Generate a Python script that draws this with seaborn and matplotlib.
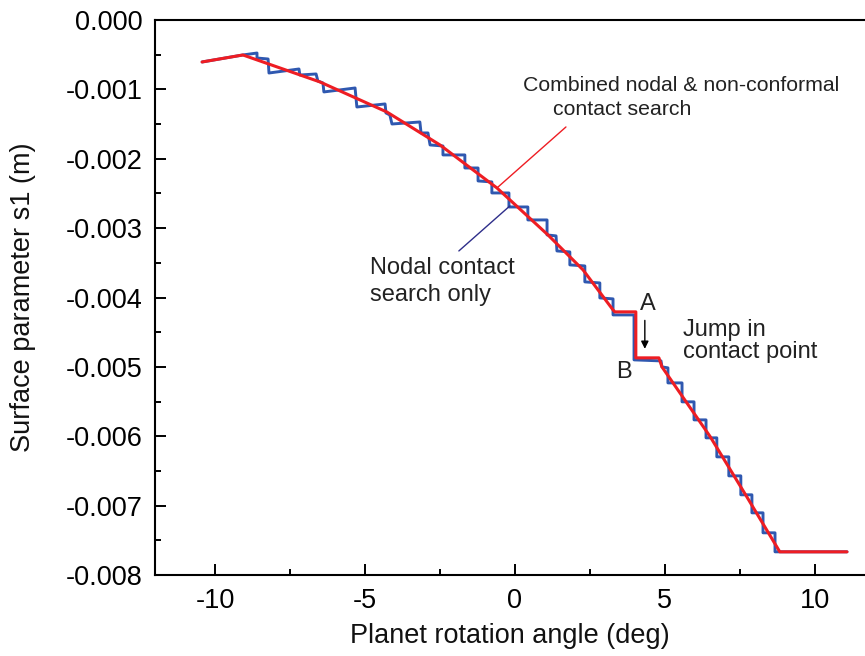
import matplotlib
matplotlib.use("Agg")
import matplotlib.pyplot as plt
from matplotlib.ticker import AutoMinorLocator, FixedLocator, FixedFormatter
import pandas as pd
import seaborn as sns

# Combined nodal & non-conformal contact search: planet angle (deg) vs s1 (m)
combined_angle = [-10.43, -9.07, -6.50, -4.27, -2.50, -0.60, 1.10, 2.27, 3.27,
                  3.33, 4.03, 4.03, 4.80, 4.90, 6.50, 7.73, 8.83, 11.07]
combined_s1 = [-0.000605, -0.000504, -0.000893, -0.001326, -0.001801, -0.002421,
               -0.003098, -0.003602, -0.004179, -0.004207, -0.004207, -0.004870,
               -0.004870, -0.005000, -0.006000, -0.006873, -0.007666, -0.007666]

# Nodal contact search only: stepwise path
nodal_angle = [-10.43, -9.07, -8.60, -8.60, -8.23, -8.20, -7.20, -7.17, -6.63, -6.57,
               -6.40, -6.37, -5.33, -5.27, -4.33, -4.30, -4.17, -4.10, -3.17, -3.13,
               -2.90, -2.83, -2.40, -2.40, -1.67, -1.67, -1.23, -1.23, -0.77, -0.77,
               -0.20, -0.20, 0.43, 0.43, 1.07, 1.07, 1.37, 1.40, 1.83, 1.83,
               2.33, 2.33, 2.83, 2.83, 3.27, 3.27, 3.97, 3.97, 4.87, 4.90,
               5.10, 5.10, 5.57, 5.57, 5.97, 5.97, 6.37, 6.37, 6.73, 6.73,
               7.13, 7.13, 7.53, 7.53, 7.90, 7.90, 8.27, 8.27, 8.67, 8.67, 11.07]
nodal_s1 = [-0.000605, -0.000504, -0.000476, -0.000548, -0.000562, -0.000764,
            -0.000706, -0.000793, -0.000778, -0.000879, -0.000908, -0.001037,
            -0.000980, -0.001254, -0.001210, -0.001340, -0.001369, -0.001499,
            -0.001470, -0.001628, -0.001628, -0.001801, -0.001816, -0.001945,
            -0.001945, -0.002133, -0.002133, -0.002320, -0.002334, -0.002493,
            -0.002493, -0.002695, -0.002695, -0.002882, -0.002882, -0.003098,
            -0.003112, -0.003329, -0.003343, -0.003530, -0.003545, -0.003775,
            -0.003790, -0.004006, -0.004020, -0.004251, -0.004251, -0.004899,
            -0.004914, -0.005000, -0.005014, -0.005231, -0.005231, -0.005504,
            -0.005504, -0.005764, -0.005764, -0.006023, -0.006023, -0.006297,
            -0.006297, -0.006571, -0.006571, -0.006844, -0.006844, -0.007104,
            -0.007104, -0.007392, -0.007392, -0.007666, -0.007666]

x_ticks = [-10, -5, 0, 5, 10]
x_tick_labels = ["-10", "-5", "0", "5", "10"]
y_ticks = [0.000, -0.001, -0.002, -0.003, -0.004, -0.005, -0.006, -0.007, -0.008]
y_tick_labels = ["0.000", "-0.001", "-0.002", "-0.003", "-0.004",
                 "-0.005", "-0.006", "-0.007", "-0.008"]

sns.set_theme(style="ticks")
plt.rcParams["font.family"] = ["Liberation Sans", "DejaVu Sans"]
plt.rcParams["axes.unicode_minus"] = False

RED = "#ee1d23"
BLUE = "#2f58b0"
NAVY = "#2e2e8a"

fig = plt.figure(figsize=(8.65, 6.56), dpi=100)
ax = fig.add_axes([155 / 865, 1 - 575 / 656, 1 - 155 / 865, 555 / 656])

nodal = pd.DataFrame({"angle": nodal_angle, "s1": nodal_s1})
combined = pd.DataFrame({"angle": combined_angle, "s1": combined_s1})
sns.lineplot(data=nodal, x="angle", y="s1", sort=False, estimator=None,
             color=BLUE, lw=2.1, ax=ax)
sns.lineplot(data=combined, x="angle", y="s1", sort=False, estimator=None,
             color=RED, lw=2.2, ax=ax)

ax.set_xlim(-12, 11.67)
ax.set_ylim(-0.008, 0.0)

ax.xaxis.set_major_locator(FixedLocator(x_ticks))
ax.xaxis.set_major_formatter(FixedFormatter(x_tick_labels))
ax.yaxis.set_major_locator(FixedLocator(y_ticks))
ax.yaxis.set_major_formatter(FixedFormatter(y_tick_labels))
ax.xaxis.set_minor_locator(AutoMinorLocator(2))
ax.yaxis.set_minor_locator(AutoMinorLocator(2))
ax.tick_params(which="both", direction="in", width=1.4, colors="black",
               top=False, right=False)
ax.tick_params(which="major", length=8, labelsize=19.5, pad=9)
ax.tick_params(which="minor", length=4)

for side in ("left", "bottom", "top"):
    ax.spines[side].set_linewidth(1.5)
    ax.spines[side].set_color("black")
ax.spines["right"].set_visible(False)

ax.set_xlabel("Planet rotation angle (deg)", fontsize=19.5, labelpad=7, color="#111111")
ax.set_ylabel("Surface parameter s1 (m)", fontsize=19.5, labelpad=21, color="#111111")

# leader lines for the two curve labels
ax.plot([-0.60, 1.70], [-0.002421, -0.001542], color=RED, lw=1.0)
ax.plot([-0.17, -1.87], [-0.002680, -0.003329], color=NAVY, lw=1.0)

txt = dict(color="#222222", va="center")
ax.text(0.27, -0.000937, "Combined nodal & non-conformal", ha="left", fontsize=15.3, **txt)
ax.text(1.27, -0.001297, "contact search", ha="left", fontsize=15.3, **txt)
ax.text(-4.83, -0.003570, "Nodal contact", ha="left", fontsize=17, **txt)
ax.text(-4.83, -0.003960, "search only", ha="left", fontsize=17, **txt)
ax.text(5.60, -0.004470, "Jump in", ha="left", fontsize=17, **txt)
ax.text(5.60, -0.004790, "contact point", ha="left", fontsize=17, **txt)
ax.text(4.43, -0.004090, "A", ha="center", fontsize=17, **txt)
ax.text(3.63, -0.005070, "B", ha="center", fontsize=17, **txt)
ax.annotate("", xy=(4.33, -0.004740), xytext=(4.33, -0.004330),
            arrowprops=dict(arrowstyle="-|>", color="black", lw=1.0,
                            mutation_scale=11, shrinkA=0, shrinkB=0))

fig.savefig("out.png", dpi=100)
